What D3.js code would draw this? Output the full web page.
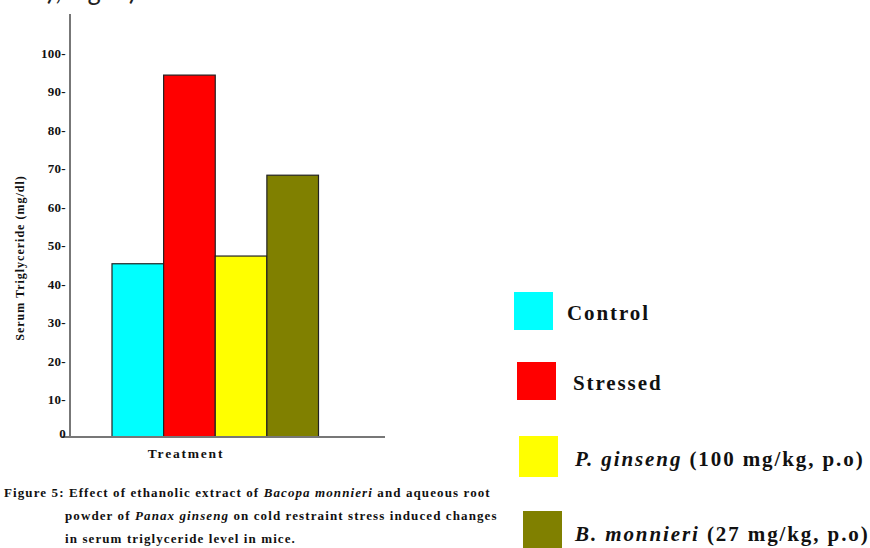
<!DOCTYPE html>
<html>
<head>
<meta charset="utf-8">
<script src="https://cdn.jsdelivr.net/npm/d3@7"></script>
<style>
  html, body { margin: 0; padding: 0; background: #ffffff; }
  svg { display: block; }
  text { font-family: "Liberation Serif", "DejaVu Serif", serif; font-weight: bold; fill: #111; }
</style>
</head>
<body>
<svg id="chart" width="870" height="548"></svg>
<script>
// ---- data ----
const categories = ["Control", "Stressed", "P. ginseng", "B. monnieri"];
const values = [45, 94, 47, 68];
const colors = ["#00FFFF", "#FF0000", "#FFFF00", "#808000"];
const yTicks = [0, 10, 20, 30, 40, 50, 60, 70, 80, 90, 100];
const legendItalic = ["", "", "P. ginseng", "B. monnieri"];
const legendRest = ["Control", "Stressed", " (100 mg/kg, p.o)", " (27 mg/kg, p.o)"];
const captionLines = [
  [["Figure 5: Effect of ethanolic extract of ", false], ["Bacopa monnieri", true], [" and aqueous root", false]],
  [["powder of ", false], ["Panax ginseng", true], [" on cold restraint stress induced changes", false]],
  [["in serum triglyceride level in mice.", false]]
];

const svg = d3.select("#chart");

// cut-off text at the very top of the page (only its lower part is visible)
svg.append("text")
  .attr("x", -8).attr("y", 0)
  .style("font-family", "Carlito, 'Open Sans', sans-serif")
  .style("font-weight", "normal")
  .style("font-size", "28px")
  .style("fill", "#222")
  .text("dose), Fig. 5)");

const y = d3.scaleLinear().domain([0, 100]).range([437, 52]);
const x = d3.scaleBand().domain(categories).range([112, 318.5]).padding(0);

// bars
svg.append("g").selectAll("rect")
  .data(categories)
  .join("rect")
  .attr("x", d => x(d))
  .attr("width", x.bandwidth())
  .attr("y", (d, i) => y(values[i]))
  .attr("height", (d, i) => y(0) - y(values[i]))
  .attr("fill", (d, i) => colors[i])
  .attr("stroke", "#222")
  .attr("stroke-width", 1.2);

// axes lines
svg.append("line")
  .attr("x1", 70).attr("x2", 70)
  .attr("y1", 14).attr("y2", y(0))
  .attr("stroke", "#777").attr("stroke-width", 2);
svg.append("line")
  .attr("x1", 62).attr("x2", 385)
  .attr("y1", y(0)).attr("y2", y(0))
  .attr("stroke", "#777").attr("stroke-width", 2);

// tick labels (with trailing dash as in the original)
svg.append("g").selectAll("text")
  .data(yTicks)
  .join("text")
  .attr("x", 66)
  .attr("y", d => d === 0 ? y(d) - 4 : y(d) + 1)
  .attr("dy", "0.35em")
  .attr("text-anchor", "end")
  .style("font-size", "13px")
  .style("letter-spacing", "0.3px")
  .text(d => d === 0 ? "0" : d + "-");

// y axis title
svg.append("text")
  .attr("transform", "translate(24,258) rotate(-90)")
  .attr("text-anchor", "middle")
  .style("font-size", "12px")
  .style("letter-spacing", "1px")
  .text("Serum Triglyceride (mg/dl)");

// x axis title
svg.append("text")
  .attr("x", 186).attr("y", 458)
  .attr("text-anchor", "middle")
  .style("font-size", "13.5px")
  .style("letter-spacing", "1.8px")
  .text("Treatment");

// caption
const capX = [4, 65, 65];
const capY = [497, 520, 543];
captionLines.forEach((parts, li) => {
  const t = svg.append("text")
    .attr("x", capX[li]).attr("y", capY[li])
    .style("font-size", "13px")
    .style("letter-spacing", "1.1px");
  parts.forEach(p => {
    t.append("tspan").style("font-style", p[1] ? "italic" : "normal").text(p[0]);
  });
});

// legend
const legSwX = [514, 517, 519, 523];
const legSwY = [292, 362, 436, 511];
const legTxX = [567, 573, 575, 575];
const legTxY = [320, 390, 466, 541];
const leg = svg.append("g");
categories.forEach((c, i) => {
  leg.append("rect")
    .attr("x", legSwX[i]).attr("y", legSwY[i])
    .attr("width", 39).attr("height", i === 2 ? 41 : 38)
    .attr("fill", colors[i]);
  const t = leg.append("text")
    .attr("x", legTxX[i]).attr("y", legTxY[i])
    .style("font-size", "21px")
    .style("letter-spacing", "1.9px");
  if (legendItalic[i]) t.append("tspan").style("font-style", "italic").text(legendItalic[i]);
  t.append("tspan").text(legendRest[i]);
});
</script>
</body>
</html>
